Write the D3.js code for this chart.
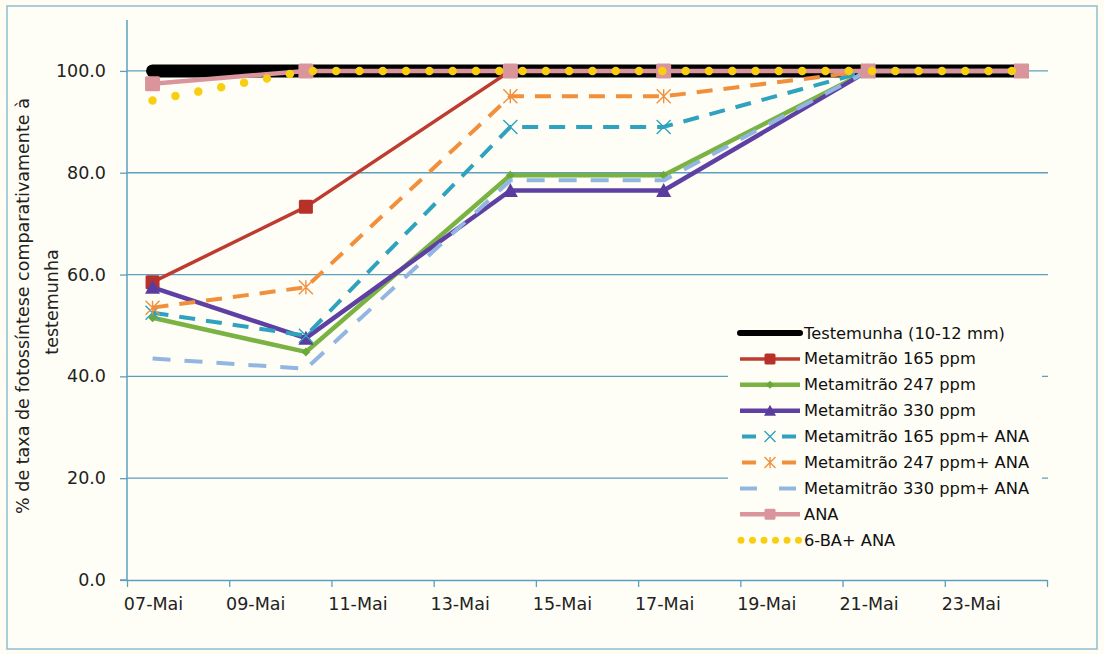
<!DOCTYPE html>
<html><head><meta charset="utf-8">
<script src="https://cdn.jsdelivr.net/npm/d3@7"></script>
<style>
html,body{margin:0;padding:0;background:#fffdf3;}
svg{display:block;font-family:"DejaVu Sans",sans-serif;}
</style></head>
<body><svg id="c" width="1104" height="654"></svg>
<script>
// ---- data ----
const pointDates = ["2013-05-07","2013-05-10","2013-05-14","2013-05-17","2013-05-21","2013-05-24"];
const tickDates = ["2013-05-07","2013-05-09","2013-05-11","2013-05-13","2013-05-15","2013-05-17","2013-05-19","2013-05-21","2013-05-23","2013-05-25"];
const tickLabels = ["07-Mai","09-Mai","11-Mai","13-Mai","15-Mai","17-Mai","19-Mai","21-Mai","23-Mai",""];
const yTicks = [0,20,40,60,80,100];
const seriesNames = ["Testemunha (10-12 mm)","Metamitrão 165 ppm","Metamitrão 247 ppm","Metamitrão 330 ppm","Metamitrão 165 ppm+ ANA","Metamitrão 247 ppm+ ANA","Metamitrão 330 ppm+ ANA","ANA","6-BA+ ANA"];
const testemunha = [100,100,100,100,100,100];
const met165 = [58.5,73.3,100,100,100,100];
const met247 = [51.5,44.8,79.5,79.5,100,100];
const met330 = [57.5,47.5,76.5,76.5,100,100];
const met165ana = [52.5,48.0,89.0,89.0,100,100];
const met247ana = [53.5,57.5,95.0,95.0,100,100];
const met330ana = [43.5,41.5,78.5,78.5,100,100];
const ana = [97.5,100,100,100,100,100];
const ba6ana = [94.2,100,100,100,100,100];
const seriesValues = [testemunha,met165,met247,met330,met165ana,met247ana,met330ana,ana,ba6ana];

// ---- styles ----
const styles = [
  {color:"#000000", w:13, lw:6, dash:null, marker:null, cap:"round"},
  {color:"#be3b2f", w:3.5, lw:3.5, dash:null, marker:"square", ms:14, mcolor:"#b8302a"},
  {color:"#7ab344", w:4.5, lw:4.5, dash:null, marker:"diamond", ms:9, mcolor:"#6aa83a"},
  {color:"#5e40a4", w:4.5, lw:4.5, dash:null, marker:"triangle", ms:15, mcolor:"#5a3c9e"},
  {color:"#2ea2be", w:4, lw:4, dash:"16,11", marker:"x", ms:14, mcolor:"#2ea2be"},
  {color:"#f0903c", w:4, lw:4, dash:"16,11", marker:"star", ms:14, mcolor:"#f0903c"},
  {color:"#92b5e2", w:4, lw:4, dash:"18,14", marker:null},
  {color:"#d9959b", w:4.5, lw:4.5, dash:null, marker:"square", ms:15, mcolor:"#d9959b"},
  {color:"#f7cf10", w:8.5, lw:7, dash:"0,23.3", marker:null, cap:"round"}
];

const svg = d3.select("#c");
const W=1104,H=654;
svg.append("rect").attr("x",0).attr("y",0).attr("width",W).attr("height",H).attr("fill","#fffdf3");
svg.append("rect").attr("x",7).attr("y",6).attr("width",1090).attr("height",643).attr("fill","#fffef6").attr("stroke","#8fbfcf").attr("stroke-width",1.5);

const x0=127,x1=1047,y0=580,y1=20;
const parse = d3.utcParse("%Y-%m-%d");
const x = d3.scaleUtc().domain([parse(tickDates[0]), parse(tickDates[tickDates.length-1])]).range([x0,x1]);
const y = d3.scaleLinear().domain([0,110]).range([y0,y1]);
const halfDay = 12*3600*1000;
const px = d => x(new Date(parse(d).getTime()+halfDay));

const axisColor="#5c9fbe";
// gridlines
svg.append("g").selectAll("line").data(yTicks.filter(v=>v>0)).join("line")
  .attr("x1",x0).attr("x2",x1+1).attr("y1",d=>y(d)).attr("y2",d=>y(d))
  .attr("stroke",axisColor).attr("stroke-width",1.3);

// y axis
const yAxis = d3.axisLeft(y).tickValues(yTicks).tickFormat(d3.format(".1f")).tickSize(7).tickPadding(14);
const gy = svg.append("g").attr("transform",`translate(${x0},0)`).call(yAxis);
gy.select(".domain").attr("stroke",axisColor).attr("stroke-width",1.5).attr("d",`M-7,${y0}H0V${y1}`);
gy.selectAll(".tick line").attr("stroke",axisColor).attr("stroke-width",1.3);
gy.selectAll(".tick text").attr("font-size",17.5).attr("fill","#222").attr("font-family","DejaVu Sans");

// x axis
const xAxis = d3.axisBottom(x).tickValues(tickDates.map(parse)).tickFormat((d,i)=>tickLabels[i]).tickSize(7).tickSizeOuter(0);
const gx = svg.append("g").attr("transform",`translate(0,${y0})`).call(xAxis);
gx.select(".domain").attr("stroke",axisColor).attr("stroke-width",1.5);
gx.selectAll(".tick line").attr("stroke",axisColor).attr("stroke-width",1.3);
gx.selectAll(".tick text").attr("font-size",17.5).attr("fill","#222").attr("font-family","DejaVu Sans")
  .attr("dx",26).attr("y",18);

// y title
const tg = svg.append("g").attr("font-size",17.5).attr("fill","#222").attr("text-anchor","middle");
tg.append("text").attr("transform","translate(23,306) rotate(-90)").attr("dominant-baseline","central").text("% de taxa de fotossíntese comparativamente à");
tg.append("text").attr("transform","translate(52,302) rotate(-90)").attr("dominant-baseline","central").text("testemunha");

// markers
function drawMarker(g, type, cx, cy, s, color){
  if(type==="square"){
    g.append("rect").attr("x",cx-s/2).attr("y",cy-s/2).attr("width",s).attr("height",s).attr("fill",color).attr("rx",1.5);
  } else if(type==="diamond"){
    g.append("path").attr("d",`M${cx},${cy-s/2}L${cx+s/2},${cy}L${cx},${cy+s/2}L${cx-s/2},${cy}Z`).attr("fill",color);
  } else if(type==="triangle"){
    g.append("path").attr("d",`M${cx},${cy-s/2}L${cx+s/2},${cy+s/2-1}L${cx-s/2},${cy+s/2-1}Z`).attr("fill",color);
  } else if(type==="x"){
    const h=s/2;
    g.append("path").attr("d",`M${cx-h},${cy-h}L${cx+h},${cy+h}M${cx-h},${cy+h}L${cx+h},${cy-h}`).attr("stroke",color).attr("stroke-width",1.4).attr("fill","none");
  } else if(type==="star"){
    const h=s/2;
    g.append("path").attr("d",`M${cx-h},${cy-h}L${cx+h},${cy+h}M${cx-h},${cy+h}L${cx+h},${cy-h}M${cx},${cy-h}V${cy+h}`).attr("stroke",color).attr("stroke-width",1.4).attr("fill","none");
  }
}

const line = d3.line().x((d,i)=>px(pointDates[i])).y(d=>y(d));
const plot = svg.append("g");
seriesValues.forEach((vals,k)=>{
  const st=styles[k];
  const g=plot.append("g");
  g.append("path").attr("d",line(vals)).attr("fill","none").attr("stroke",st.color)
    .attr("stroke-width",st.w).attr("stroke-linejoin","round")
    .attr("stroke-linecap",st.cap||"butt")
    .attr("stroke-dasharray",st.dash);
  if(st.marker){
    vals.forEach((v,i)=>drawMarker(g,st.marker,px(pointDates[i]),y(v),st.ms,st.mcolor));
  }
});

// legend
const lg = svg.append("g");
lg.append("rect").attr("x",728).attr("y",319).attr("width",314).attr("height",236).attr("fill","#fffef6");
seriesNames.forEach((name,k)=>{
  const st=styles[k];
  const cy=333+k*25.9;
  const g=lg.append("g");
  g.append("path").attr("d",`M740,${cy}H800`).attr("stroke",st.color).attr("stroke-width",st.lw)
    .attr("stroke-linecap",st.cap||"butt")
    .attr("stroke-dasharray", k===8 ? "0,11.5" : (st.dash? (k===6?"17,22":"14,26") : null))
    .attr("stroke-dashoffset", k===8 ? -1 : (st.dash && k!==6 ? -2 : 0));
  if(st.marker){
    const s = st.marker==="square"? 11 : (st.marker==="triangle"?12:(st.marker==="diamond"?8:11));
    drawMarker(g,st.marker,770,cy,s,st.mcolor);
  }
  g.append("text").attr("x",804).attr("y",cy).attr("dominant-baseline","central")
    .attr("font-size",16.3).attr("fill","#111").text(name);
});
</script>
</body></html>
